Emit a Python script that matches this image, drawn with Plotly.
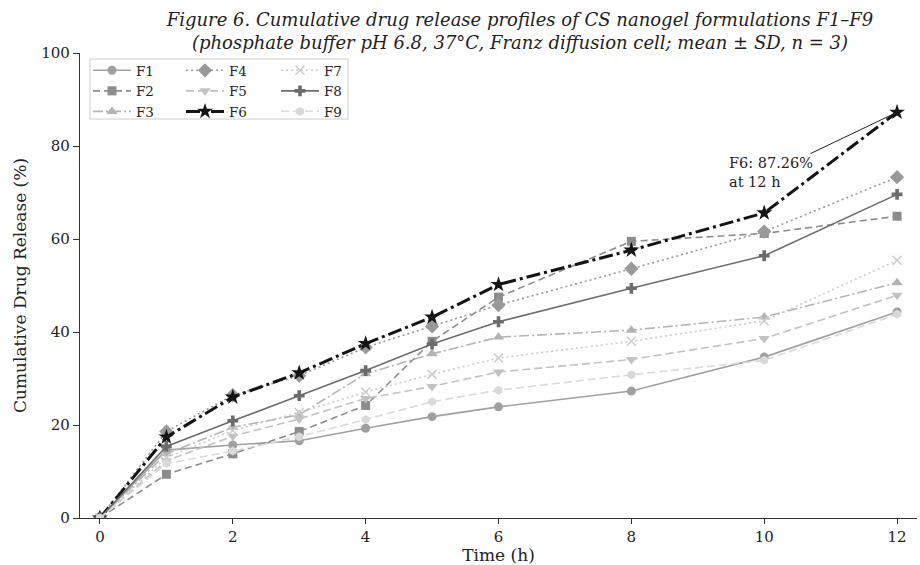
import plotly.graph_objects as go

time_h = [0, 1, 2, 3, 4, 5, 6, 8, 10, 12]
F1 = [0, 14.6, 15.7, 16.6, 19.3, 21.8, 23.9, 27.3, 34.6, 44.3]
F2 = [0, 9.4, 13.8, 18.6, 24.2, 38.0, 47.5, 59.5, 61.2, 64.9]
F3 = [0, 13.8, 19.5, 22.2, 31.0, 35.3, 38.9, 40.4, 43.2, 50.6]
F4 = [0, 18.6, 26.4, 30.6, 36.7, 41.2, 45.8, 53.6, 61.6, 73.3]
F5 = [0, 12.3, 17.6, 21.3, 25.7, 28.3, 31.4, 34.1, 38.6, 47.9]
F6 = [0, 17.4, 26.0, 31.2, 37.5, 43.2, 50.2, 57.6, 65.6, 87.26]
F7 = [0, 13.0, 18.8, 22.7, 27.1, 30.9, 34.4, 38.0, 42.4, 55.4]
F8 = [0, 15.4, 20.9, 26.3, 31.7, 37.4, 42.2, 49.4, 56.4, 69.6]
F9 = [0, 11.7, 14.4, 17.5, 21.2, 25.0, 27.5, 30.8, 33.9, 43.8]

names = ["F1", "F2", "F3", "F4", "F5", "F6", "F7", "F8", "F9"]
series = [F1, F2, F3, F4, F5, F6, F7, F8, F9]

FONT = "DejaVu Serif"

styles = {
    "F1": dict(color="#a0a0a0", dash="solid", width=1.6, symbol="circle", size=9, legend="legend"),
    "F2": dict(color="#8c8c8c", dash="7px,4px", width=1.6, symbol="square", size=9, legend="legend"),
    "F3": dict(color="#b4b4b4", dash="10px,3px,2px,3px", width=1.6, symbol="triangle-up", size=10, legend="legend"),
    "F4": dict(color="#999999", dash="2px,3px", width=1.6, symbol="diamond", size=11, legend="legend2"),
    "F5": dict(color="#c2c2c2", dash="8px,4px", width=1.6, symbol="triangle-down", size=10, legend="legend2"),
    "F6": dict(color="#141414", dash="14px,4px,3px,4px", width=3, symbol="star", size=12, legend="legend2"),
    "F7": dict(color="#cccccc", dash="2px,3px", width=1.6, symbol="x-thin-open", size=9, legend="legend3"),
    "F8": dict(color="#6c6c6c", dash="solid", width=1.6, symbol="cross", size=9, legend="legend3"),
    "F9": dict(color="#d9d9d9", dash="8px,4px", width=1.6, symbol="hexagon", size=9, legend="legend3"),
}

fig = go.Figure()
for name, vals in zip(names, series):
    s = styles[name]
    mk = dict(symbol=s["symbol"], size=s["size"], color=s["color"])
    if s["symbol"] == "x-thin-open":
        mk["line"] = dict(color=s["color"], width=1.5)
    fig.add_trace(go.Scatter(
        x=time_h, y=vals, name=name, mode="lines+markers",
        line=dict(color=s["color"], dash=s["dash"], width=s["width"]),
        marker=mk, legend=s["legend"],
    ))

L, R, T, B = 80, 3, 53, 47
W, H = 920, 565
pw = W - L - R
ph = H - T - B

def px_x(p):
    return (p - L) / pw

def px_y(p):
    return (H - B - p) / ph

leg_common = dict(yanchor="top", xanchor="left", bgcolor="rgba(0,0,0,0)",
                  font=dict(family=FONT, size=13.5, color="#222"), borderwidth=0,
                  tracegroupgap=0, itemwidth=38)

fig.update_layout(
    width=W, height=H,
    margin=dict(l=L, r=R, t=T, b=B),
    paper_bgcolor="white", plot_bgcolor="white",
    font=dict(family=FONT, size=13, color="#222"),
    title=dict(
        text="Figure 6. Cumulative drug release profiles of CS nanogel formulations F1–F9<br>(phosphate buffer pH 6.8, 37°C, Franz diffusion cell; mean ± SD, n = 3)",
        font=dict(family=FONT, size=18, style="italic", color="#222"),
        x=520 / W, xref="container", xanchor="center",
        y=1 - 26 / H, yref="container", yanchor="middle",
    ),
    xaxis=dict(
        range=[-0.3, 12.3], tickvals=[0, 2, 4, 6, 8, 10, 12],
        showline=True, linecolor="#333", linewidth=1.2, mirror=False,
        ticks="outside", ticklen=5, tickcolor="#333", showgrid=False, zeroline=False,
        tickfont=dict(family=FONT, size=15),
        title=dict(text="Time (h)", font=dict(family=FONT, size=17), standoff=0),
    ),
    yaxis=dict(
        range=[0, 100], tickvals=[0, 20, 40, 60, 80, 100],
        showline=True, linecolor="#333", linewidth=1.2, mirror=False,
        ticks="outside", ticklen=6, tickcolor="#333", showgrid=False, zeroline=False,
        tickfont=dict(family=FONT, size=15),
        title=dict(text="Cumulative Drug Release (%)", font=dict(family=FONT, size=17), standoff=10),
    ),
    legend=dict(x=px_x(88), y=px_y(55), **leg_common),
    legend2=dict(x=px_x(181), y=px_y(55), **leg_common),
    legend3=dict(x=px_x(276), y=px_y(55), **leg_common),
    shapes=[dict(type="rect", xref="paper", yref="paper",
                 x0=px_x(90), x1=px_x(348), y0=px_y(119), y1=px_y(59),
                 line=dict(color="#cccccc", width=1), fillcolor="rgba(255,255,255,0.8)",
                 layer="below")],
    annotations=[dict(
        x=12, y=F6[-1], xref="x", yref="y",
        ax=10.1, ay=74.3, axref="x", ayref="y",
        text="F6: 87.26%<br>at 12 h", showarrow=True, arrowhead=0,
        arrowwidth=1, arrowcolor="#222", align="left",
        font=dict(family=FONT, size=14.5, color="#222"),
    )],
)

fig.write_html("out.html")
